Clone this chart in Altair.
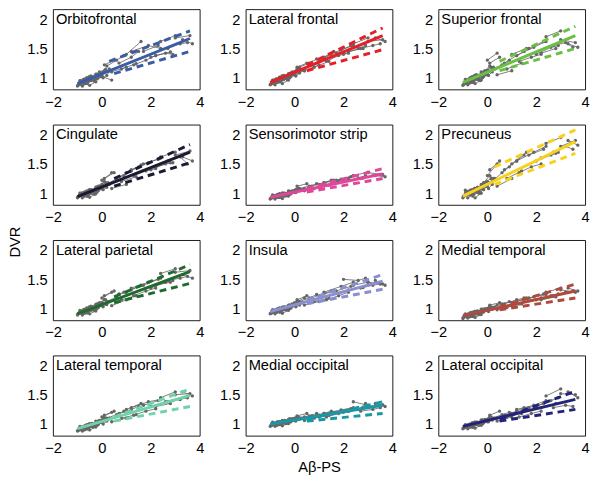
import altair as alt
import pandas as pd

REGIONS = ["Orbitofrontal", "Lateral frontal", "Superior frontal",
           "Cingulate", "Sensorimotor strip", "Precuneus",
           "Lateral parietal", "Insula", "Medial temporal",
           "Lateral temporal", "Medial occipital", "Lateral occipital"]
COLORS = ["#3a5ba8", "#e41f26", "#6bbf45",
          "#1b1a33", "#e0479b", "#f7d11e",
          "#1f6b2e", "#8a8fcf", "#b04a3c",
          "#6fd3a9", "#1a97a5", "#23237b"]

# subject id per visit and Aβ-PS of each visit
SUBJECT = list("AAABBCCCDDEEEFFGGGHHIIIJJKKKLLMMMNNOOOPPQQQRRSSSTTUUVV"
               "WWWXXYYYZZaaabbccddeeeffgg"
               "hhiiijjkkkllmmmnn")
ABETA = [-0.95, -0.8, -0.7, -0.9, -0.65, -0.8, -0.6, -0.45, -0.7, -0.5,
         -0.6, -0.4, -0.3, -0.5, -0.25, -0.4, -0.2, -0.05, -0.3, 0.0,
         -0.15, 0.1, 0.25, 0.0, 0.4, 0.2, 0.6, 0.9, 0.4, 1.0,
         0.7, 1.2, 1.5, 1.0, 1.6, 1.3, 1.8, 2.2, 1.7, 2.3,
         2.0, 2.6, 2.9, 2.4, 3.0, 2.7, 3.2, 3.5, 3.0, 3.6,
         -0.85, -0.55, -0.2, 0.3,
         -0.98, -0.9, -0.85, -0.75, -0.6, -0.55, -0.45, -0.35, -0.45, -0.2,
         -0.35, -0.15, 0.0, -0.1, 0.15, 0.1, 0.5, 0.8, 1.4, 1.2,
         1.9, 2.4, 2.2, 2.8, 3.3, 3.7,
         -1.0, -0.92, -0.88, -0.78, -0.68, -0.72, -0.58, -0.62, -0.52, -0.42,
         -0.38, -0.28, -0.25, -0.1, 0.05, 0.05, 0.2]

DVR_ORBITOFRONTAL = [0.88, 0.92, 0.90, 0.95, 0.93, 0.86, 0.90, 0.95, 0.98, 1.00, 0.91, 0.96, 0.94, 0.87, 0.93, 1.00, 1.04, 1.02, 0.95, 1.08, 1.06, 1.12, 1.10, 1.02, 0.96, 1.20, 1.30, 1.38, 1.10, 1.18, 1.25, 1.35, 1.45, 1.40, 1.62, 1.22, 1.30, 1.38, 1.45, 1.55, 1.35, 1.42, 1.40, 1.62, 1.72, 1.50, 1.58, 1.60, 1.68, 1.72, 0.93, 0.97, 0.98, 1.15,
                     0.87, 0.91, 0.89, 0.97, 0.99, 0.94, 0.97, 0.99, 1.03, 1.06, 0.98, 1.00, 1.04, 1.10, 1.14, 1.22, 1.30, 1.15, 1.24, 1.45, 1.55, 1.50, 1.38, 1.44, 1.65, 1.58,
                     0.86, 0.89, 0.95, 0.96, 0.92, 0.90, 0.94, 1.00, 1.02, 0.98, 0.97, 1.00, 1.06, 1.05, 1.09, 1.00, 1.04]
DVR_LATERAL_FRONTAL = [0.90, 0.93, 0.95, 0.96, 0.94, 0.88, 0.93, 0.97, 0.98, 1.01, 0.93, 0.99, 0.97, 0.90, 0.96, 1.02, 1.06, 1.05, 0.97, 1.10, 1.08, 1.15, 1.13, 1.05, 1.12, 1.18, 1.25, 1.32, 1.12, 1.22, 1.22, 1.33, 1.40, 1.30, 1.45, 1.28, 1.38, 1.42, 1.42, 1.55, 1.40, 1.50, 1.55, 1.58, 1.68, 1.50, 1.55, 1.58, 1.62, 1.65, 0.94, 0.98, 1.00, 1.14,
                       0.89, 0.92, 0.90, 0.98, 1.00, 0.95, 0.98, 1.01, 1.04, 1.07, 0.99, 1.02, 1.06, 1.10, 1.15, 1.18, 1.25, 1.18, 1.28, 1.35, 1.48, 1.55, 1.45, 1.50, 1.68, 1.62,
                       0.88, 0.90, 0.96, 0.97, 0.93, 0.92, 0.96, 1.01, 1.03, 0.99, 0.99, 1.02, 1.07, 1.06, 1.10, 1.03, 1.08]
DVR_SUPERIOR_FRONTAL = [0.90, 0.95, 0.93, 0.97, 0.95, 0.88, 0.92, 0.98, 1.00, 1.02, 0.92, 0.97, 0.95, 0.90, 0.96, 1.03, 1.08, 1.05, 0.96, 1.12, 1.10, 1.20, 1.18, 1.30, 1.42, 1.15, 1.22, 1.30, 1.05, 1.12, 1.25, 1.38, 1.45, 1.40, 1.50, 1.28, 1.35, 1.40, 1.50, 1.62, 1.40, 1.52, 1.55, 1.70, 1.80, 1.55, 1.60, 1.52, 1.65, 1.60, 0.95, 1.00, 1.00, 1.15,
                        0.88, 0.93, 0.91, 0.98, 1.01, 0.95, 0.99, 1.02, 1.05, 1.08, 0.98, 1.02, 1.07, 1.12, 1.18, 1.25, 1.35, 1.15, 1.25, 1.38, 1.52, 1.62, 1.42, 1.50, 1.58, 1.52,
                        0.87, 0.90, 0.97, 0.96, 0.92, 0.91, 0.95, 1.02, 1.04, 1.00, 0.98, 1.03, 1.10, 1.08, 1.12, 1.04, 1.10]
DVR_CINGULATE = [0.95, 0.98, 0.97, 1.00, 0.98, 0.92, 0.95, 1.00, 1.02, 1.05, 0.95, 1.00, 0.98, 0.93, 0.99, 1.05, 1.10, 1.08, 1.00, 1.15, 1.12, 1.20, 1.18, 1.22, 1.35, 1.15, 1.25, 1.30, 1.08, 1.15, 1.28, 1.38, 1.45, 1.35, 1.48, 1.30, 1.38, 1.42, 1.50, 1.58, 1.40, 1.50, 1.52, 1.62, 1.70, 1.55, 1.62, 1.50, 1.65, 1.72, 0.98, 1.02, 1.02, 1.15,
                 0.94, 0.97, 0.96, 1.00, 1.03, 0.97, 1.01, 1.03, 1.06, 1.10, 1.00, 1.04, 1.08, 1.12, 1.18, 1.25, 1.35, 1.20, 1.28, 1.40, 1.52, 1.60, 1.45, 1.52, 1.62, 1.55,
                 0.92, 0.95, 1.00, 1.01, 0.96, 0.95, 0.99, 1.04, 1.06, 1.02, 1.02, 1.05, 1.10, 1.09, 1.13, 1.06, 1.10]
DVR_SENSORIMOTOR = [0.92, 0.95, 0.94, 0.97, 0.95, 0.90, 0.93, 0.96, 0.98, 1.00, 0.93, 0.97, 0.96, 0.91, 0.95, 1.00, 1.03, 1.02, 0.97, 1.05, 1.03, 1.07, 1.06, 1.02, 1.08, 1.08, 1.12, 1.16, 1.04, 1.10, 1.12, 1.18, 1.22, 1.15, 1.22, 1.14, 1.20, 1.25, 1.22, 1.28, 1.20, 1.26, 1.30, 1.30, 1.36, 1.25, 1.30, 1.32, 1.35, 1.32, 0.95, 0.98, 0.98, 1.06,
                    0.91, 0.94, 0.93, 0.96, 0.98, 0.94, 0.97, 0.99, 1.00, 1.03, 0.96, 0.99, 1.02, 1.04, 1.08, 1.12, 1.16, 1.08, 1.14, 1.18, 1.24, 1.30, 1.22, 1.26, 1.30, 1.28,
                    0.90, 0.92, 0.96, 0.96, 0.93, 0.93, 0.96, 0.99, 1.00, 0.97, 0.98, 1.00, 1.04, 1.03, 1.06, 1.01, 1.05]
DVR_PRECUNEUS = [0.95, 1.00, 0.98, 1.05, 1.03, 0.92, 0.97, 1.02, 1.05, 1.08, 0.95, 1.02, 1.00, 0.92, 1.00, 1.10, 1.15, 1.12, 1.02, 1.20, 1.18, 1.30, 1.25, 1.30, 1.50, 1.20, 1.35, 1.45, 1.12, 1.25, 1.40, 1.55, 1.65, 1.50, 1.70, 1.35, 1.45, 1.50, 1.65, 1.75, 1.55, 1.65, 1.70, 1.85, 1.95, 1.70, 1.80, 1.75, 1.80, 1.90, 1.00, 1.05, 1.08, 1.25,
                 0.95, 0.99, 0.97, 1.03, 1.06, 0.98, 1.03, 1.06, 1.08, 1.13, 1.00, 1.06, 1.12, 1.18, 1.25, 1.40, 1.55, 1.25, 1.38, 1.55, 1.70, 1.80, 1.60, 1.68, 1.90, 1.82,
                 0.92, 0.96, 1.02, 1.03, 0.98, 0.97, 1.01, 1.06, 1.08, 1.04, 1.04, 1.08, 1.15, 1.12, 1.18, 1.08, 1.15]
DVR_LATERAL_PARIETAL = [0.92, 0.95, 0.94, 0.97, 0.95, 0.89, 0.93, 0.97, 0.99, 1.02, 0.93, 0.98, 0.97, 0.91, 0.96, 1.03, 1.07, 1.05, 0.98, 1.10, 1.08, 1.15, 1.12, 1.18, 1.28, 1.12, 1.20, 1.28, 1.05, 1.15, 1.25, 1.32, 1.38, 1.28, 1.40, 1.22, 1.30, 1.35, 1.40, 1.50, 1.35, 1.45, 1.48, 1.60, 1.68, 1.48, 1.52, 1.55, 1.62, 1.65, 0.95, 0.99, 1.00, 1.12,
                        0.91, 0.94, 0.93, 0.98, 1.00, 0.95, 0.99, 1.02, 1.04, 1.08, 0.98, 1.02, 1.06, 1.10, 1.15, 1.22, 1.30, 1.15, 1.22, 1.35, 1.45, 1.52, 1.40, 1.45, 1.58, 1.52,
                        0.89, 0.92, 0.96, 0.97, 0.93, 0.92, 0.96, 1.01, 1.03, 0.99, 0.99, 1.02, 1.07, 1.05, 1.09, 1.03, 1.07]
DVR_INSULA = [0.93, 0.96, 0.95, 0.98, 0.96, 0.91, 0.94, 0.98, 1.00, 1.02, 0.94, 0.99, 0.98, 0.92, 0.97, 1.03, 1.06, 1.05, 0.99, 1.08, 1.06, 1.12, 1.10, 1.10, 1.18, 1.12, 1.18, 1.24, 1.06, 1.12, 1.18, 1.26, 1.30, 1.22, 1.30, 1.15, 1.22, 1.28, 1.30, 1.38, 1.50, 1.48, 1.52, 1.40, 1.45, 1.35, 1.40, 1.42, 1.45, 1.42, 0.96, 1.00, 1.00, 1.10,
              0.92, 0.95, 0.94, 0.98, 1.00, 0.96, 0.99, 1.01, 1.03, 1.06, 0.98, 1.01, 1.05, 1.08, 1.12, 1.15, 1.22, 1.12, 1.18, 1.28, 1.38, 1.45, 1.32, 1.36, 1.48, 1.40,
              0.91, 0.93, 0.97, 0.98, 0.95, 0.94, 0.97, 1.01, 1.02, 0.99, 1.00, 1.02, 1.06, 1.05, 1.08, 1.03, 1.06]
DVR_MEDIAL_TEMPORAL = [0.86, 0.90, 0.88, 0.91, 0.89, 0.84, 0.87, 0.92, 0.93, 0.95, 0.87, 0.92, 0.90, 0.85, 0.90, 0.96, 0.99, 0.97, 0.92, 1.00, 0.98, 1.04, 1.02, 1.00, 1.06, 1.02, 1.08, 1.12, 0.98, 1.05, 1.08, 1.15, 1.18, 1.10, 1.18, 1.08, 1.14, 1.18, 1.18, 1.25, 1.15, 1.22, 1.25, 1.28, 1.35, 1.22, 1.28, 1.30, 1.32, 1.28, 0.89, 0.93, 0.94, 1.02,
                       0.85, 0.88, 0.87, 0.90, 0.93, 0.88, 0.91, 0.94, 0.95, 0.98, 0.90, 0.94, 0.97, 1.00, 1.03, 1.06, 1.10, 1.02, 1.08, 1.12, 1.20, 1.24, 1.15, 1.20, 1.35, 1.30,
                       0.83, 0.86, 0.90, 0.91, 0.87, 0.86, 0.89, 0.94, 0.95, 0.91, 0.92, 0.95, 0.99, 0.97, 1.01, 0.95, 0.99]
DVR_LATERAL_TEMPORAL = [0.90, 0.94, 0.93, 0.96, 0.94, 0.88, 0.92, 0.96, 0.97, 1.00, 0.92, 0.97, 0.96, 0.90, 0.95, 1.01, 1.04, 1.03, 0.97, 1.06, 1.05, 1.10, 1.08, 1.12, 1.20, 1.10, 1.16, 1.22, 1.04, 1.10, 1.18, 1.25, 1.30, 1.25, 1.35, 1.15, 1.22, 1.26, 1.32, 1.40, 1.30, 1.38, 1.40, 1.45, 1.55, 1.38, 1.42, 1.45, 1.50, 1.52, 0.94, 0.98, 0.98, 1.10,
                        0.89, 0.93, 0.91, 0.95, 0.98, 0.93, 0.97, 0.99, 1.00, 1.04, 0.95, 0.99, 1.03, 1.06, 1.10, 1.15, 1.22, 1.10, 1.16, 1.28, 1.38, 1.42, 1.30, 1.35, 1.55, 1.48,
                        0.88, 0.90, 0.95, 0.95, 0.91, 0.90, 0.94, 0.99, 1.00, 0.96, 0.97, 1.00, 1.05, 1.03, 1.07, 1.00, 1.05]
DVR_MEDIAL_OCCIPITAL = [0.98, 1.01, 1.00, 1.03, 1.01, 0.96, 0.99, 1.02, 1.04, 1.06, 0.99, 1.03, 1.02, 0.97, 1.01, 1.06, 1.09, 1.08, 1.02, 1.10, 1.08, 1.12, 1.10, 1.06, 1.12, 1.10, 1.14, 1.18, 1.06, 1.12, 1.14, 1.18, 1.22, 1.15, 1.20, 1.12, 1.18, 1.22, 1.20, 1.26, 1.20, 1.25, 1.35, 1.38, 1.32, 1.22, 1.25, 1.28, 1.30, 1.33, 1.01, 1.04, 1.04, 1.10,
                        0.97, 1.00, 0.99, 1.02, 1.04, 1.00, 1.02, 1.04, 1.05, 1.08, 1.01, 1.04, 1.07, 1.09, 1.12, 1.14, 1.18, 1.10, 1.15, 1.18, 1.24, 1.28, 1.22, 1.28, 1.35, 1.30,
                        0.96, 0.98, 1.02, 1.02, 0.99, 0.98, 1.01, 1.04, 1.05, 1.02, 1.03, 1.05, 1.08, 1.07, 1.10, 1.05, 1.08]
DVR_LATERAL_OCCIPITAL = [0.94, 0.97, 0.96, 0.99, 0.97, 0.92, 0.95, 0.99, 1.00, 1.03, 0.95, 1.00, 0.99, 0.93, 0.98, 1.03, 1.07, 1.05, 0.99, 1.08, 1.06, 1.12, 1.10, 1.04, 1.10, 1.10, 1.16, 1.20, 1.05, 1.12, 1.15, 1.22, 1.28, 1.18, 1.26, 1.12, 1.18, 1.22, 1.28, 1.35, 1.30, 1.40, 1.45, 1.48, 1.60, 1.28, 1.32, 1.30, 1.52, 1.50, 0.97, 1.01, 1.00, 1.10,
                         0.93, 0.96, 0.95, 0.99, 1.02, 0.97, 1.00, 1.02, 1.03, 1.06, 0.98, 1.02, 1.05, 1.08, 1.12, 1.15, 1.22, 1.12, 1.18, 1.25, 1.32, 1.40, 1.28, 1.35, 1.55, 1.45,
                         0.92, 0.94, 0.98, 0.99, 0.95, 0.95, 0.98, 1.02, 1.03, 1.00, 1.01, 1.03, 1.07, 1.06, 1.09, 1.04, 1.07]

DVR = [DVR_ORBITOFRONTAL, DVR_LATERAL_FRONTAL, DVR_SUPERIOR_FRONTAL,
       DVR_CINGULATE, DVR_SENSORIMOTOR, DVR_PRECUNEUS,
       DVR_LATERAL_PARIETAL, DVR_INSULA, DVR_MEDIAL_TEMPORAL,
       DVR_LATERAL_TEMPORAL, DVR_MEDIAL_OCCIPITAL, DVR_LATERAL_OCCIPITAL]

# fitted lines: solid from x=-1 to 3.6 ; dashed [x0, y0, x1, y1]
FIT_X = [-1.0, 3.6]
FIT_SOLID = [[0.90, 1.67], [0.92, 1.72], [0.92, 1.72],
             [0.94, 1.70], [0.93, 1.33], [0.95, 1.88],
             [0.91, 1.63], [0.95, 1.47], [0.88, 1.30],
             [0.92, 1.49], [1.00, 1.32], [0.96, 1.42]]
FIT_UPPER = [[0.3, 1.28, 3.6, 1.80], [0.5, 1.22, 3.6, 1.85], [0.5, 1.28, 3.6, 1.88],
             [0.5, 1.25, 3.6, 1.83], [0.5, 1.08, 3.6, 1.42], [0.3, 1.45, 3.6, 2.08],
             [0.5, 1.20, 3.6, 1.75], [0.5, 1.15, 3.6, 1.58], [0.5, 1.03, 3.6, 1.42],
             [0.5, 1.12, 3.6, 1.60], [0.5, 1.08, 3.6, 1.38], [0.5, 1.08, 3.6, 1.56]]
FIT_LOWER = [[0.5, 1.07, 3.6, 1.45], [0.5, 1.12, 3.6, 1.48], [0.5, 1.12, 3.6, 1.50],
             [0.5, 1.12, 3.6, 1.52], [0.5, 1.02, 3.6, 1.25], [0.3, 1.15, 3.6, 1.68],
             [0.5, 1.10, 3.6, 1.43], [0.5, 1.08, 3.6, 1.33], [0.5, 0.98, 3.6, 1.18],
             [0.5, 1.05, 3.6, 1.30], [0.5, 1.05, 3.6, 1.18], [0.5, 1.05, 3.6, 1.25]]

FONT = "Liberation Sans"
W, H = 150, 82


def panel(i):
    row, col = divmod(i, 3)
    color = COLORS[i]
    pts = pd.DataFrame({"x": ABETA, "y": DVR[i], "s": SUBJECT})

    xtitle = "Aβ-PS" if (row == 3 and col == 1) else None
    xaxis = alt.Axis(values=[-2, 0, 2, 4], format="d", grid=False, ticks=False,
                     domain=False, labelFlush=False, labelFontSize=15,
                     labelColor="black", labelFont=FONT, labelPadding=5,
                     title=xtitle, titleFont=FONT, titleFontSize=15,
                     titleFontWeight="normal", titleColor="black", titlePadding=5)
    yaxis = alt.Axis(values=[1, 1.5, 2], format="~g", grid=False, ticks=False,
                     domain=False, labelFontSize=15, labelColor="black",
                     labelFont=FONT, labelPadding=6, labelOverlap=False,
                     labelFlush=False, title=None)

    X = alt.X("x:Q", scale=alt.Scale(domain=[-2, 4], nice=False), axis=xaxis)
    Y = alt.Y("y:Q", scale=alt.Scale(domain=[0.8, 2.17], nice=False, zero=False), axis=yaxis)

    traj = alt.Chart(pts).mark_line(color="#5e5e5e", strokeWidth=0.8).encode(
        x=X, y=Y, detail="s:N", order="x:Q")
    dots = alt.Chart(pts).mark_circle(color="#666666", size=12, opacity=1).encode(
        x="x:Q", y="y:Q")

    solid_df = pd.DataFrame({"x": FIT_X, "y": FIT_SOLID[i]})
    u, l = FIT_UPPER[i], FIT_LOWER[i]
    dash_df = pd.DataFrame({"x": [u[0], u[2], l[0], l[2]],
                            "y": [u[1], u[3], l[1], l[3]],
                            "k": ["upper", "upper", "lower", "lower"]})
    dashed = alt.Chart(dash_df).mark_line(color=color, strokeWidth=3,
                                          strokeDash=[7, 5]).encode(
        x="x:Q", y="y:Q", detail="k:N")
    solid = alt.Chart(solid_df).mark_line(color=color, strokeWidth=3).encode(
        x="x:Q", y="y:Q")
    label = alt.Chart(pd.DataFrame({"t": [REGIONS[i]]})).mark_text(
        align="left", baseline="top", fontSize=15, font=FONT, color="black").encode(
        x=alt.value(3), y=alt.value(3), text="t:N")

    return alt.layer(traj, dots, dashed, solid, label).properties(width=W, height=H)


panels = [panel(i) for i in range(12)]
chart = alt.concat(*panels, columns=3, spacing={"row": 36, "column": 47},
                   bounds="flush").properties(
    title=alt.TitleParams("DVR", orient="left", anchor="middle", font=FONT,
                          fontSize=15, fontWeight="normal", color="black", offset=3),
    padding={"left": 0, "top": -5, "right": 2, "bottom": 0}
).configure(background="white").configure_view(stroke="black", strokeWidth=0.9)

chart.save("out.html", embed_options={"renderer": "svg", "actions": False})
